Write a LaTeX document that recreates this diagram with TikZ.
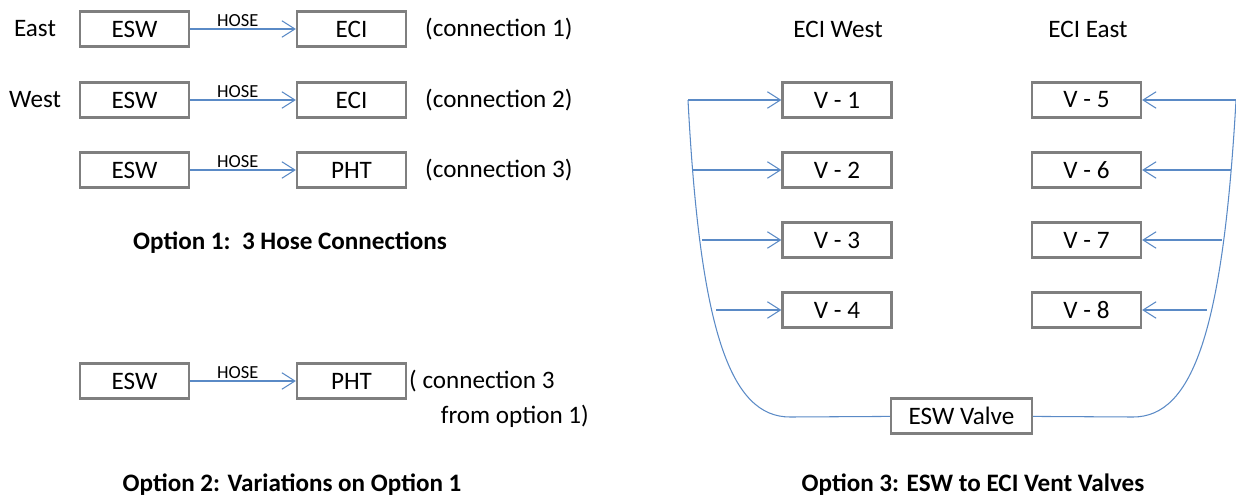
\documentclass[tikz,border=0pt]{standalone}
\usepackage{fontspec}
\setmainfont{Carlito}
\usetikzlibrary{positioning,arrows.meta}

\definecolor{boxgray}{HTML}{7F7F7F}
\definecolor{hoseblue}{HTML}{5A8AC6}

\begin{document}
\begin{tikzpicture}[x=0.02cm, y=-0.02cm,
  every node/.style={font=\fontsize{14.3}{16}\selectfont},
  unit/.style={draw=boxgray, line width=1.3pt, minimum width=2.18cm, minimum height=0.7cm, inner sep=0pt},
  hose/.style={draw=hoseblue, line width=0.6pt, -{Straight Barb[length=2.6mm, width=3.3mm]}},
  bus/.style={draw=hoseblue, line width=0.6pt},
  tag/.style={font=\fontsize{10.5}{12}\selectfont, above, inner sep=1pt},
  title/.style={font=\fontsize{14.3}{16}\selectfont\bfseries, anchor=base}]

  \useasboundingbox (0,0) rectangle (1236,497);

  % Option 1
  \node (east) at (35,29) {East};
  \node (west) at (35,100) {West};
  \foreach \n/\y/\dst in {1/29/ECI, 2/100/ECI, 3/170/PHT}{
    \node[unit] (esw\n) at (134.5,\y) {ESW};
    \node[unit] (dst\n) at (351.5,\y) {\dst};
    \draw[hose] (esw\n) -- node[tag, pos=0.45] {HOSE} (dst\n);
    \node[anchor=west] (conn\n) at (419,\y) {(connection \n)};
  }
  \node[title] (opt1) at (290,249) {Option 1:\ \ 3 Hose Connections};

  % Option 2
  \node[unit] (esw4) at (134.5,381) {ESW};
  \node[unit] (pht4) at (351.5,381) {PHT};
  \draw[hose] (esw4) -- node[tag, pos=0.45] {HOSE} (pht4);
  \node[anchor=west] (conn4) at (403,381) {( connection 3};
  \node[anchor=east] (from4) at (595,416) {from option 1)};
  \node[title] (opt2) at (292,491) {Option 2: Variations on Option 1};

  % Option 3
  \node (eciw) at (838,29) {ECI West};
  \node (ecie) at (1088,29) {ECI East};
  \node[unit, minimum width=2.82cm] (valve) at (961.5,416) {ESW Valve};
  \foreach \n/\y/\xl/\xr in {1/100/688/1236, 2/170/692/1231, 3/240/702/1222, 4/310/716/1207}{
    \pgfmathtruncatemacro{\m}{\n+4}
    \node[unit] (v\n) at (837,\y) {V - \n};
    \node[unit] (v\m) at (1086.5,\y) {V - \m};
    \coordinate (lb\n) at (\xl,\y);
    \coordinate (rb\n) at (\xr,\y);
    \draw[hose] (lb\n) -- (v\n);
    \draw[hose] (rb\n) -- (v\m);
  }
  \coordinate (lbend) at (790,417);
  \coordinate (rbend) at (1133,417);
  \draw[bus] (lb1) .. controls (700,330) and (730,417) .. (lbend) -- (valve);
  \draw[bus] (rb1) .. controls (1223,330) and (1193,417) .. (rbend) -- (valve);
  \node[title] (opt3) at (973,491) {Option 3: ESW to ECI Vent Valves};
\end{tikzpicture}
\end{document}
